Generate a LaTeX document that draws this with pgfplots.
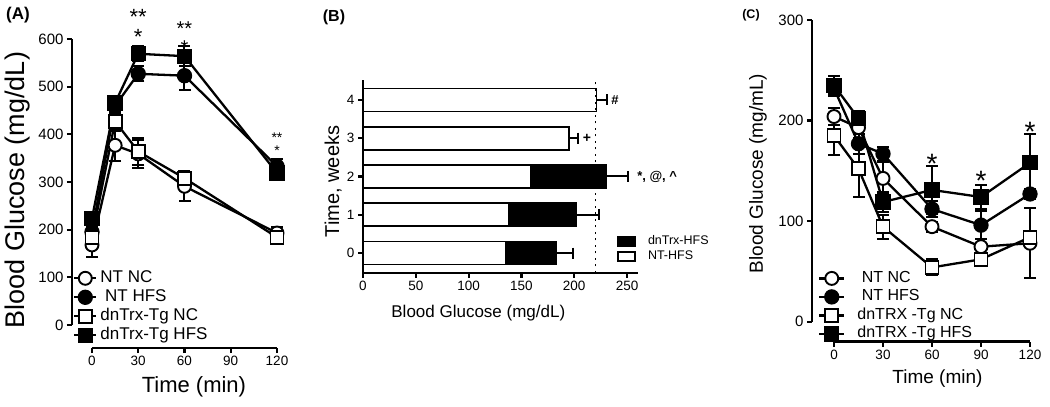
\documentclass[border=0pt]{standalone}
\usepackage{fontspec}
\setmainfont{Liberation Sans}
\usepackage{pgfplots}
\pgfplotsset{compat=1.18}
\newcommand\fs[1]{\fontsize{#1}{#1}\selectfont}
\pgfplotsset{
  prism/.style={
    scale only axis, clip=false,
    axis x line*=bottom, axis y line*=left,
    axis line style={line width=2.6pt,-},
    tick align=outside, major tick length=5pt,
    tick style={line width=2.2pt,black},
    /pgf/number format/assume math mode=true,
    xticklabel style={font=\fs{13.5}},
    yticklabel style={font=\fs{15}},
    legend cell align=left,
    every axis plot/.append style={line width=2.3pt,black},
    error bars/error bar style={line width=2pt},
    error bars/error mark options={rotate=90,line width=2pt,mark size=6pt},
  },
  opencirc/.style={mark=*,mark size=6.5pt,mark options={fill=white,line width=1.9pt}},
  fillcirc/.style={mark=*,mark size=6.5pt,mark options={fill=black}},
  opensq/.style={mark=square*,mark size=6.5pt,mark options={fill=white,line width=1.9pt}},
  fillsq/.style={mark=square*,mark size=6.5pt,mark options={fill=black}},
}
\begin{document}
\begin{tikzpicture}[x=1pt,y=1pt]
\path[use as bounding box] (0,0) rectangle (1050,407);

% ---------- (A) glucose tolerance
\begin{axis}[prism,
  at={(92pt,82pt)}, anchor=south west, width=185pt, height=286pt,
  xmin=0, xmax=120, ymin=0, ymax=600,
  axis x line shift=23pt, axis y line shift=20pt,
  xtick={0,30,60,90,120}, ytick={0,100,...,600},
  xlabel={Time (min)}, ylabel={Blood Glucose (mg/dL)},
  x label style={at={(axis description cs:0.551,-0.217)},anchor=center,font=\fs{22}},
  y label style={at={(axis description cs:-0.4,0.472)},anchor=center,font=\fs{27}},
  legend style={at={(axis description cs:-0.103,0.192)},anchor=north west,
    draw=none,fill=none,inner sep=0pt,row sep=3pt,font=\fs{17},
    nodes={inner sep=0pt,text height=12pt,text depth=4pt},
    /tikz/every odd column/.append style={column sep=3pt}},
  legend image code/.code={\draw[mark repeat=2,mark phase=2,#1]
    plot coordinates {(0pt,0pt) (11pt,0pt) (22pt,0pt)};},
]
\addplot[opencirc, error bars/.cd, y dir=both, y explicit] coordinates {
  (0,168) +- (0,26) (15,377) +- (0,32) (30,359) +- (0,30) (60,291) +- (0,31) (120,193) +- (0,12)};
\addlegendentry{NT NC}
\addplot[fillcirc, error bars/.cd, y dir=both, y explicit] coordinates {
  (0,195) +- (0,10) (15,460) +- (0,15) (30,527) +- (0,16) (60,523) +- (0,30) (120,333) +- (0,15)};
\addlegendentry{\ NT HFS}
\addplot[opensq, error bars/.cd, y dir=both, y explicit] coordinates {
  (0,184) +- (0,12) (15,427) +- (0,20) (30,364) +- (0,28) (60,308) +- (0,16) (120,184) +- (0,10)};
\addlegendentry{dnTrx-Tg NC}
\addplot[fillsq, error bars/.cd, y dir=both, y explicit] coordinates {
  (0,224) +- (0,12) (15,466) +- (0,12) (30,569) +- (0,16) (60,564) +- (0,21) (120,319) +- (0,10)};
\addlegendentry{dnTrx-Tg HFS}
\node[font=\fontsize{22}{20}\selectfont,align=center,inner sep=0pt] at (axis cs:30,626) {**\\*};
\node[font=\fontsize{20}{19}\selectfont,align=center,inner sep=0pt] at (axis cs:60,601) {**\\*};
\node[font=\fontsize{14}{13}\selectfont,align=center,inner sep=0pt] at (axis cs:120,380) {**\\*};
\end{axis}
\node[font=\bfseries\fs{17}] at (18,392) {(A)};

% ---------- (B) weekly fasting glucose
\begin{axis}[prism,
  at={(363pt,134pt)}, anchor=south west, width=274.6pt, height=193pt,
  xmin=0, xmax=260, ymin=-0.52, ymax=4.52,
  xtick={0,50,...,250}, ytick={0,...,4},
  xticklabel style={font=\fs{13.5}}, yticklabel style={font=\fs{13.5}},
  xlabel={Blood Glucose (mg/dL)}, ylabel={Time, weeks},
  x label style={at={(axis description cs:0.42,-0.207)},anchor=center,font=\fs{17}},
  y label style={at={(axis description cs:-0.109,0.474)},anchor=center,font=\fs{20}},
  legend style={at={(axis description cs:0.925,0.197)},anchor=north west,
    draw=none,fill=none,inner sep=0pt,row sep=3pt,font=\fs{12.5},
    nodes={inner sep=0pt,text height=9pt,text depth=3pt},
    /tikz/every odd column/.append style={column sep=12pt}},
  legend image code/.code={\draw[#1,line width=1.8pt] (0pt,-4.5pt) rectangle (17pt,4.5pt);},
  error bars/error mark options={rotate=90,line width=2pt,mark size=5.5pt},
]
\addplot[xbar, bar shift=0pt, bar width=23pt, fill=black, line width=1.8pt,
  error bars/.cd, x dir=plus, x explicit] coordinates {
  (183,0) +- (15.6,0) (201.7,1) +- (21.3,0) (230,2) +- (21,0)};
\addlegendentry{dnTrx-HFS}
\addplot[xbar, bar shift=0pt, bar width=23pt, fill=white, line width=1.8pt] coordinates {
  (135.4,0) (138.6,1) (159,2)};
\addlegendentry{NT-HFS}
\addplot[xbar, bar shift=0pt, bar width=23pt, fill=white, line width=1.8pt, forget plot,
  error bars/.cd, x dir=plus, x explicit] coordinates {
  (195,3) +- (9,0) (221,4) +- (10,0)};
\addplot[line width=1.5pt, dash pattern=on 2pt off 4.5pt, forget plot] coordinates {(220,-0.52) (220,4.52)};
\node[font=\bfseries\fs{13}] at (axis cs:238.6,4) {\#};
\node[font=\bfseries\fs{14}] at (axis cs:212,3) {+};
\node[font=\bfseries\fs{13},anchor=west,inner sep=0pt] at (axis cs:259.5,2) {*, @, \textasciicircum};
\end{axis}
\node[font=\bfseries\fs{16}] at (334,389.5) {(B)};

% ---------- (C) insulin tolerance
\begin{axis}[prism,
  at={(834pt,85.3pt)}, anchor=south west, width=196pt, height=301.7pt,
  xmin=0, xmax=120, ymin=0, ymax=300,
  axis x line shift=20pt, axis y line shift=22pt,
  xtick={0,30,...,120}, ytick={0,100,200,300},
  xlabel={Time (min)}, ylabel={Blood Glucose (mg/mL)},
  x label style={at={(axis description cs:0.528,-0.187)},anchor=center,font=\fs{19}},
  y label style={at={(axis description cs:-0.388,0.491)},anchor=center,font=\fs{19}},
  legend style={at={(axis description cs:-0.082,0.169)},anchor=north west,
    draw=none,fill=none,inner sep=0pt,row sep=3.5pt,font=\fs{16},
    nodes={inner sep=0pt,text height=11.5pt,text depth=3.5pt},
    /tikz/every odd column/.append style={column sep=12pt}},
  legend image code/.code={\draw[mark repeat=2,mark phase=2,#1]
    plot coordinates {(0pt,0pt) (12.5pt,0pt) (25pt,0pt)};},
]
\addplot[opencirc, error bars/.cd, y dir=both, y explicit] coordinates {
  (0,204) +- (0,8) (15,193) +- (0,10) (30,142.5) +- (0,16) (60,94.5) +- (0,5) (90,74.6) +- (0,8) (120,78) +- (0,35)};
\addlegendentry{\ NT NC}
\addplot[fillcirc, error bars/.cd, y dir=both, y explicit] coordinates {
  (0,232) +- (0,8) (15,177) +- (0,10) (30,167) +- (0,7) (60,112) +- (0,8) (90,96) +- (0,14) (120,127) +- (0,5)};
\addlegendentry{\ NT HFS}
\addplot[opensq, error bars/.cd, y dir=both, y explicit] coordinates {
  (0,185) +- (0,19) (15,152) +- (0,28) (30,94.5) +- (0,12) (60,54) +- (0,8) (90,62) +- (0,5) (120,84) +- (0,6)};
\addlegendentry{dnTRX -Tg NC}
\addplot[fillsq, error bars/.cd, y dir=both, y explicit] coordinates {
  (0,235) +- (0,9) (15,202) +- (0,8) (30,119) +- (0,10) (60,131) +- (0,24) (90,124) +- (0,12) (120,158) +- (0,29)};
\addlegendentry{dnTRX -Tg HFS}
\node[font=\fs{28}] at (axis cs:60,157) {*};
\node[font=\fs{28}] at (axis cs:90,140) {*};
\node[font=\fs{28}] at (axis cs:120,189) {*};
\end{axis}
\node[font=\bfseries\fs{12.5}] at (751,392) {(C)};
\end{tikzpicture}
\end{document}
